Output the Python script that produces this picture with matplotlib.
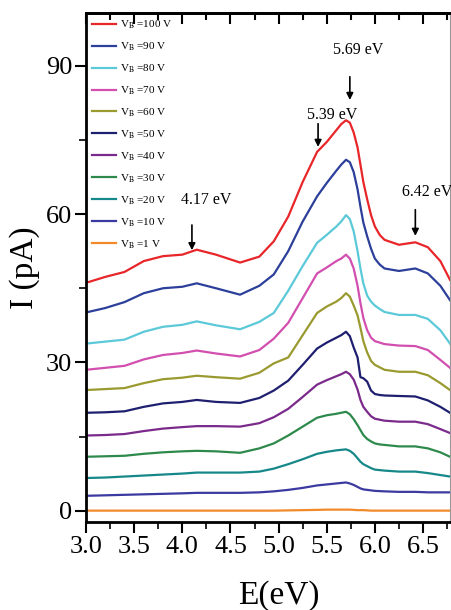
import matplotlib
matplotlib.use("Agg")
import matplotlib.pyplot as plt
from matplotlib.ticker import MultipleLocator, FormatStrFormatter

plt.rcParams['font.family'] = ['Liberation Serif', 'DejaVu Serif']
plt.rcParams['mathtext.fontset'] = 'stix'

# энергия фотонов, эВ
E = [3.0, 3.2, 3.4, 3.6, 3.8, 4.0, 4.15, 4.35, 4.6, 4.8, 4.95, 5.1, 5.25, 5.4, 5.5, 5.6,
     5.65, 5.7, 5.74, 5.78, 5.82, 5.85, 5.88, 5.92, 5.96, 6.0, 6.05, 6.1, 6.25, 6.42,
     6.55, 6.68, 6.78]

# ток I (pA) для разных напряжений смещения
I_100 = [46.1, 47.3, 48.3, 50.5, 51.5, 51.8, 52.8, 51.8, 50.2, 51.4, 54.5, 59.5, 66.5, 72.6, 74.6, 77.0,
         78.2, 79.0, 78.5, 76.5, 73.5, 70.0, 66.5, 63.0, 59.8, 57.5, 55.8, 54.8, 53.8, 54.3, 53.3, 50.5, 46.7]
I_90  = [40.1, 41.0, 42.2, 44.0, 45.0, 45.3, 46.0, 45.0, 43.7, 45.5, 47.8, 52.5, 58.5, 63.6, 66.3, 68.8,
         70.0, 71.0, 70.5, 68.5, 65.0, 61.5, 58.3, 55.5, 53.0, 51.0, 49.8, 49.0, 48.5, 49.0, 48.0, 45.5, 42.6]
I_80  = [33.8, 34.2, 34.6, 36.2, 37.2, 37.6, 38.3, 37.5, 36.7, 38.2, 40.0, 44.5, 49.5, 54.2, 55.8, 57.5,
         58.5, 59.8, 59.0, 56.5, 52.5, 49.0, 46.0, 43.5, 42.3, 41.5, 40.8, 40.2, 39.6, 39.6, 38.8, 36.5, 33.8]
I_70  = [28.5, 28.9, 29.3, 30.6, 31.5, 31.9, 32.4, 31.8, 31.2, 32.5, 34.8, 38.0, 43.0, 48.0, 49.2, 50.5,
         51.0, 51.8, 51.0, 49.0, 45.5, 42.0, 39.0, 36.5, 35.0, 34.3, 34.0, 33.7, 33.4, 33.3, 32.5, 30.5, 28.9]
I_60  = [24.4, 24.6, 24.8, 25.8, 26.6, 26.9, 27.3, 27.0, 26.7, 27.9, 29.8, 31.0, 35.5, 40.0, 41.3, 42.3,
         43.0, 44.0, 43.3, 41.5, 39.5, 37.0, 34.3, 32.0, 30.3, 29.5, 29.0, 28.5, 28.1, 28.1, 27.4, 25.8, 24.4]
I_50  = [19.8, 19.9, 20.1, 21.0, 21.7, 22.0, 22.4, 22.0, 21.8, 22.8, 24.3, 26.3, 29.5, 32.8, 34.0, 35.0,
         35.5, 36.2, 35.3, 33.0, 31.0, 27.0, 26.8, 26.1, 24.3, 23.6, 23.4, 23.3, 23.2, 23.1, 22.3, 21.0, 19.8]
I_40  = [15.2, 15.3, 15.5, 16.1, 16.6, 16.9, 17.1, 17.1, 17.0, 17.7, 18.9, 20.6, 23.0, 25.5, 26.4, 27.2,
         27.6, 28.1, 27.6, 26.5, 24.5, 22.4, 21.0, 20.0, 19.1, 18.6, 18.4, 18.2, 18.0, 18.0, 17.5, 16.5, 15.7]
I_30  = [10.9, 11.0, 11.1, 11.5, 11.8, 12.0, 12.1, 12.0, 11.7, 12.6, 13.6, 15.2, 17.0, 18.8, 19.3, 19.6,
         19.8, 20.0, 19.5, 18.5, 17.3, 16.3, 15.3, 14.5, 14.0, 13.6, 13.4, 13.3, 13.0, 13.0, 12.6, 11.8, 10.9]
I_20  = [6.6, 6.7, 6.9, 7.1, 7.3, 7.5, 7.7, 7.7, 7.7, 7.9, 8.5, 9.4, 10.4, 11.5, 11.9, 12.2,
         12.3, 12.4, 12.1, 11.5, 10.6, 9.9, 9.4, 9.0, 8.6, 8.3, 8.2, 8.1, 7.9, 7.9, 7.6, 7.2, 6.9]
I_10  = [3.0, 3.1, 3.2, 3.3, 3.4, 3.5, 3.6, 3.6, 3.6, 3.7, 3.9, 4.2, 4.6, 5.1, 5.3, 5.5,
         5.6, 5.7, 5.5, 5.2, 4.8, 4.5, 4.3, 4.2, 4.1, 4.0, 3.95, 3.9, 3.8, 3.8, 3.7, 3.7, 3.7]
I_1   = [0.0, 0.0, 0.0, 0.0, 0.0, 0.0, 0.0, 0.0, 0.0, 0.0, 0.0, 0.05, 0.1, 0.15, 0.2, 0.2,
         0.2, 0.2, 0.2, 0.15, 0.1, 0.1, 0.1, 0.05, 0.0, 0.0, 0.0, 0.0, 0.0, 0.0, 0.0, 0.0, 0.0]

curves = [I_100, I_90, I_80, I_70, I_60, I_50, I_40, I_30, I_20, I_10, I_1]
labels = [r'V$_{\rm B}$ =100 V', r'V$_{\rm B}$ =90 V', r'V$_{\rm B}$ =80 V',
          r'V$_{\rm B}$ =70 V', r'V$_{\rm B}$ =60 V', r'V$_{\rm B}$ =50 V',
          r'V$_{\rm B}$ =40 V', r'V$_{\rm B}$ =30 V', r'V$_{\rm B}$ =20 V',
          r'V$_{\rm B}$ =10 V', r'V$_{\rm B}$ =1 V']
colors = ['#e8262a', '#2c3f9a', '#5cc9d9', '#d24fb0', '#9a9a30', '#1f1f70',
          '#7a2a8a', '#2e8a4c', '#17888a', '#3a3aa0', '#f28a2a']

# пики: подпись, положение стрелки (E), верх и низ стрелки (I)
peak_text = ['4.17 eV', '5.39 eV', '5.69 eV', '6.42 eV']
peak_E    = [4.10, 5.41, 5.74, 6.42]
arrow_top = [57.8, 78.3, 87.8, 60.9]
arrow_bot = [52.7, 73.6, 83.1, 55.6]
text_E    = [4.25, 5.56, 5.83, 6.54]
text_I    = [62.8, 80.1, 93.2, 64.5]

fig = plt.figure(figsize=(4.51, 6.10), dpi=100)
ax = fig.add_axes([86/451, 88/610, 364/451, 509/610])

for y, lab, c in zip(curves, labels, colors):
    ax.plot(E, y, color=c, lw=1.6, label=lab)

for k in range(len(peak_text)):
    ax.annotate('', xy=(peak_E[k], arrow_bot[k]), xytext=(peak_E[k], arrow_top[k]),
                arrowprops=dict(arrowstyle='-|>', color='black', lw=1.2,
                                mutation_scale=10, shrinkA=0, shrinkB=0))
    ax.text(text_E[k], text_I[k], peak_text[k], ha='center', va='center', fontsize=11.5)

ax.set_xlim(3.0, 6.78)
ax.set_ylim(-2.3, 100.7)
ax.xaxis.set_major_locator(MultipleLocator(0.5))
ax.xaxis.set_minor_locator(MultipleLocator(0.25))
ax.yaxis.set_major_locator(MultipleLocator(30))
ax.yaxis.set_minor_locator(MultipleLocator(15))
ax.xaxis.set_major_formatter(FormatStrFormatter('%.1f'))

ax.tick_params(axis='both', which='major', labelsize=19, length=8, width=1.5, pad=2)
ax.tick_params(axis='both', which='minor', length=5, width=1.2)
for s in ['left', 'bottom', 'top']:
    ax.spines[s].set_linewidth(2)
ax.spines['right'].set_linewidth(0.8)
ax.spines['right'].set_color('#999999')

# верхние засечки внутрь, без подписей
top = ax.secondary_xaxis('top')
top.xaxis.set_major_locator(MultipleLocator(0.5))
top.xaxis.set_minor_locator(MultipleLocator(0.25))
top.tick_params(which='both', direction='in', labeltop=False, width=1.5)
top.tick_params(which='major', length=8)
top.tick_params(which='minor', length=5)
top.spines['top'].set_linewidth(2)

ax.set_xlabel('E(eV)', fontsize=24, labelpad=2)
ax.xaxis.set_label_coords(0.53, -0.115)
ax.set_ylabel('I (pA)', fontsize=24, labelpad=4)

ax.legend(loc='upper left', frameon=False, fontsize=8, handlelength=2.2,
          handletextpad=0.35, labelspacing=0.85, borderaxespad=0.3,
          borderpad=0.2)

fig.savefig('out.png', dpi=100)
